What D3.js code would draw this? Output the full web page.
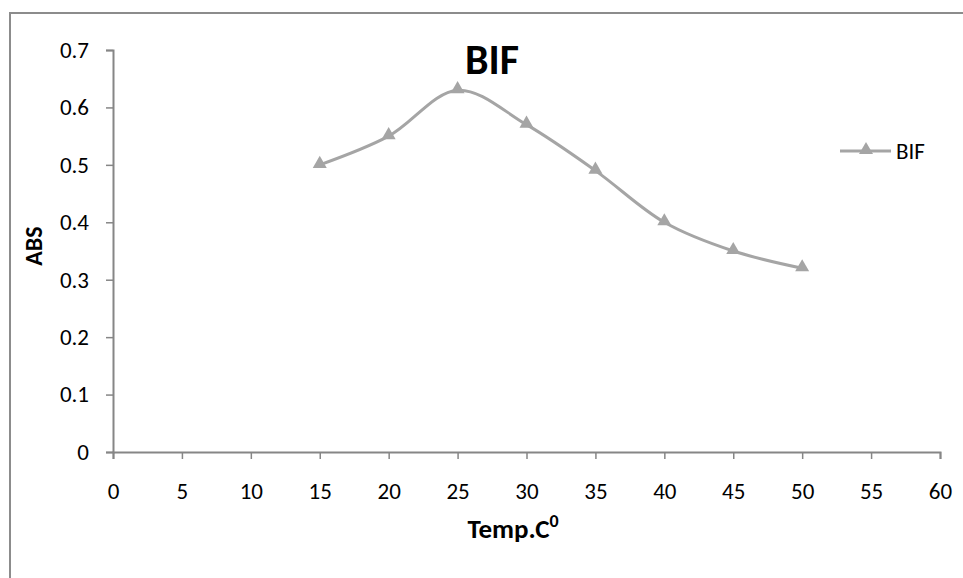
<!DOCTYPE html>
<html>
<head>
<meta charset="utf-8">
<script src="https://cdn.jsdelivr.net/npm/d3@7"></script>
<style>
  html, body { margin: 0; padding: 0; background: #fff; }
  svg { display: block; font-family: Carlito, Lato, "Open Sans", sans-serif; }
</style>
</head>
<body>
<svg id="chart" width="963" height="578"></svg>
<script>
// Absorbance of BIF across incubation temperatures
const temps = [15, 20, 25, 30, 35, 40, 45, 50];
const absValues = [0.50, 0.55, 0.63, 0.57, 0.49, 0.40, 0.35, 0.32];
const xTicks = [0, 5, 10, 15, 20, 25, 30, 35, 40, 45, 50, 55, 60];
const yTicks = [0, 0.1, 0.2, 0.3, 0.4, 0.5, 0.6, 0.7];
const seriesName = "BIF";

const svg = d3.select("#chart");
const axisColor = "#868686";
const lineColor = "#a5a5a5";
const fontStack = "Carlito, Lato, 'Open Sans', sans-serif";

// outer frame
svg.append("rect")
  .attr("x", 10).attr("y", 13)
  .attr("width", 980).attr("height", 600)
  .attr("fill", "none").attr("stroke", "#8c8c8c").attr("stroke-width", 2);

const x = d3.scaleLinear().domain([0, 60]).range([113, 940]);
const y = d3.scaleLinear().domain([0, 0.7]).range([452, 50]);

// y axis
const yAxis = svg.append("g").attr("transform", `translate(${x(0)},0)`)
  .call(d3.axisLeft(y).tickValues(yTicks).tickSize(7).tickPadding(17)
    .tickFormat(d => d === 0 ? "0" : d3.format(".1f")(d)));
// x axis
const xAxis = svg.append("g").attr("transform", `translate(0,${y(0)})`)
  .call(d3.axisBottom(x).tickValues(xTicks).tickSize(7).tickPadding(24));

[yAxis, xAxis].forEach(g => {
  g.attr("font-size", null).attr("font-family", null);
  g.select(".domain").attr("stroke", axisColor).attr("stroke-width", 2);
  g.selectAll(".tick line").attr("stroke", axisColor).attr("stroke-width", 1.5);
  g.selectAll(".tick text").attr("fill", "#000").style("font-size", "23px")
    .style("font-family", fontStack);
});

const pts = temps.map((t, i) => [t, absValues[i]]);

// smoothed series line
const line = d3.line().x(d => x(d[0])).y(d => y(d[1])).curve(d3.curveCatmullRom.alpha(0.5));
svg.append("path").datum(pts)
  .attr("d", line).attr("fill", "none")
  .attr("stroke", lineColor).attr("stroke-width", 3);

const tri = d3.symbol().type(d3.symbolTriangle).size(85);
svg.selectAll(".marker").data(pts).enter().append("path")
  .attr("class", "marker")
  .attr("transform", d => `translate(${x(d[0])},${y(d[1]) - 1})`)
  .attr("d", tri).attr("fill", lineColor);

// title
svg.append("text").attr("x", 492).attr("y", 74).attr("text-anchor", "middle")
  .style("font-size", "42px").style("font-weight", "bold").text(seriesName);

// axis titles
const xt = svg.append("text").attr("x", 513).attr("y", 538).attr("text-anchor", "middle")
  .style("font-size", "27px").style("font-weight", "bold");
xt.append("tspan").text("Temp.C");
xt.append("tspan").attr("dy", -11).style("font-size", "18px").text("0");

svg.append("text").attr("transform", "translate(42,246) rotate(-90)")
  .attr("text-anchor", "middle").style("font-size", "24px").style("font-weight", "bold")
  .text("ABS");

// legend
const lg = svg.append("g").attr("transform", "translate(840,151)");
lg.append("line").attr("x1", 0).attr("x2", 51).attr("y1", 0).attr("y2", 0)
  .attr("stroke", lineColor).attr("stroke-width", 3);
lg.append("path").attr("transform", "translate(26,-1)").attr("d", tri).attr("fill", lineColor);
lg.append("text").attr("x", 56).attr("y", 8).style("font-size", "23px").text(seriesName);
</script>
</body>
</html>
